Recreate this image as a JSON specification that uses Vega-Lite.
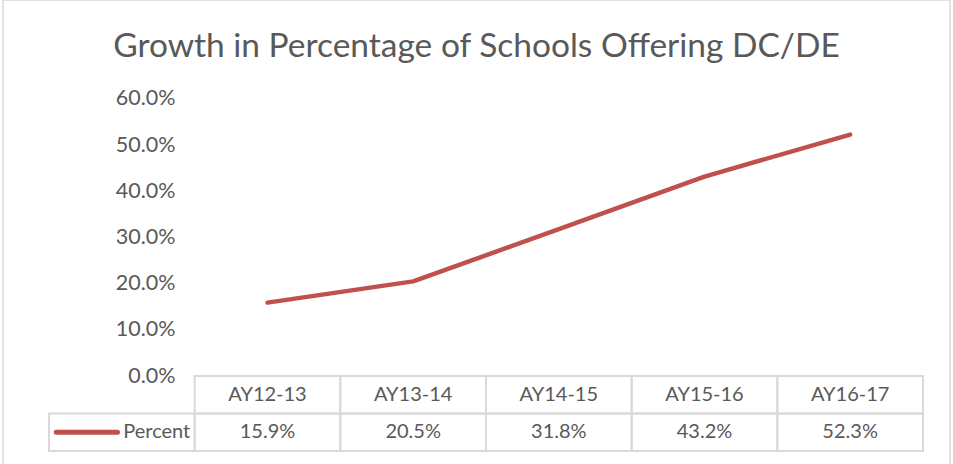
{
  "$schema": "https://vega.github.io/schema/vega-lite/v6.json",
  "width": 947,
  "height": 466,
  "padding": {"left": 3, "top": 0, "right": 3, "bottom": 0},
  "autosize": {"type": "pad"},
  "background": "white",
  "config": {
    "view": {"stroke": "#D9D9D9", "strokeWidth": 1.5},
    "font": "Lato",
    "text": {"font": "Lato", "fontSize": 20, "color": "#595959", "baseline": "middle"}
  },
  "title": {
    "text": "Growth in Percentage of Schools Offering DC/DE",
    "fontSize": 33.5,
    "font": "Lato",
    "fontWeight": "normal",
    "color": "#595959",
    "anchor": "middle",
    "frame": "group",
    "baseline": "alphabetic",
    "offset": -90
  },
  "data": {
    "values": [
      {"year": "AY12-13", "pct": 0.159},
      {"year": "AY13-14", "pct": 0.205},
      {"year": "AY14-15", "pct": 0.318},
      {"year": "AY15-16", "pct": 0.432},
      {"year": "AY16-17", "pct": 0.523}
    ]
  },
  "layer": [
    {
      "mark": {"type": "line", "color": "#C0504D", "strokeWidth": 4.5, "strokeCap": "round", "strokeJoin": "round"},
      "encoding": {
        "x": {
          "field": "year", "type": "nominal", "bandPosition": 0.5,
          "scale": {"type": "band", "domain": ["legend", "AY12-13", "AY13-14", "AY14-15", "AY15-16", "AY16-17"], "paddingInner": 0, "paddingOuter": 0.2506, "align": 0.63},
          "axis": null
        },
        "y": {
          "field": "pct", "type": "quantitative",
          "scale": {"domain": [-0.1949, 0.8144], "nice": false, "zero": false},
          "axis": {"values": [0, 0.1, 0.2, 0.3, 0.4, 0.5, 0.6], "format": ".1%", "grid": false, "domain": false, "ticks": false, "labelPadding": 0, "offset": -172, "labelFontSize": 21.5, "labelColor": "#595959", "labelFont": "Lato", "title": null}
        }
      }
    },
    {
      "layer": [
        {
          "mark": {"type": "rect", "fill": "transparent", "stroke": "#D9D9D9", "strokeWidth": 2},
          "encoding": {
            "x": {"field": "year", "type": "nominal"},
            "y": {"datum": "header", "type": "nominal", "scale": {"type": "band", "domain": ["header", "Percent"], "range": [376, 451], "paddingInner": 0, "paddingOuter": 0}, "axis": null}
          }
        },
        {
          "mark": {"type": "rect", "fill": "transparent", "stroke": "#D9D9D9", "strokeWidth": 2},
          "encoding": {
            "x": {"field": "year", "type": "nominal"},
            "y": {"datum": "Percent", "type": "nominal"}
          }
        },
        {
          "data": {"values": [{"series": "Percent"}]},
          "layer": [
            {
              "mark": {"type": "rect", "fill": "transparent", "stroke": "#D9D9D9", "strokeWidth": 2},
              "encoding": {
                "x": {"datum": "legend", "type": "nominal"},
                "y": {"datum": "Percent", "type": "nominal"}
              }
            },
            {
              "mark": {"type": "rule", "color": "#C0504D", "strokeWidth": 5, "strokeCap": "round"},
              "encoding": {
                "x": {"datum": "legend", "type": "nominal", "bandPosition": 0.05},
                "x2": {"datum": "legend", "bandPosition": 0.47},
                "y": {"datum": "Percent", "type": "nominal", "bandPosition": 0.5}
              }
            },
            {
              "mark": {"type": "text", "align": "right"},
              "encoding": {
                "x": {"datum": "legend", "type": "nominal", "bandPosition": 0.97},
                "y": {"datum": "Percent", "type": "nominal", "bandPosition": 0.5},
                "text": {"field": "series"}
              }
            }
          ]
        },
        {
          "mark": {"type": "text", "align": "center"},
          "encoding": {
            "x": {"field": "year", "type": "nominal", "bandPosition": 0.5},
            "y": {"datum": "header", "type": "nominal", "bandPosition": 0.5},
            "text": {"field": "year"}
          }
        },
        {
          "mark": {"type": "text", "align": "center"},
          "encoding": {
            "x": {"field": "year", "type": "nominal", "bandPosition": 0.5},
            "y": {"datum": "Percent", "type": "nominal", "bandPosition": 0.5},
            "text": {"field": "pct", "type": "quantitative", "format": ".1%"}
          }
        }
      ]
    }
  ],
  "resolve": {"scale": {"y": "independent"}}
}
